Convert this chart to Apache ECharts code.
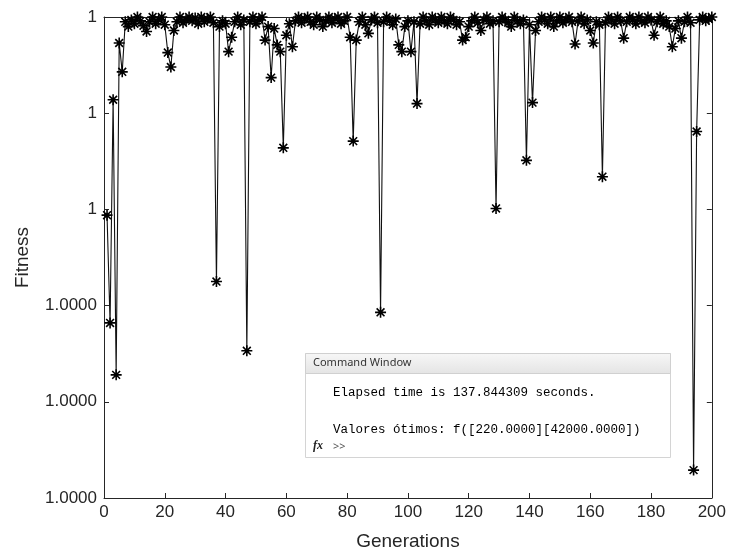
<!DOCTYPE html>
<html>
<head>
<meta charset="utf-8">
<script src="https://cdn.jsdelivr.net/npm/echarts@6/dist/echarts.min.js"></script>
<style>
  html, body { margin: 0; padding: 0; background: #fff; }
  #chart { width: 729px; height: 558px; }
</style>
</head>
<body>
<div id="chart"></div>
<script>
// Fitness per generation, expressed on the plot's tick scale (0 = bottom tick, 5 = top tick)
const fitnessLevel = [
  2.94, 1.82, 4.14, 1.28, 4.73, 4.43, 4.95, 4.90, 4.97, 4.93,
  5.00, 4.96, 4.91, 4.85, 4.95, 5.00, 4.93, 4.97, 5.00, 4.92,
  4.63, 4.48, 4.86, 4.95, 5.00, 4.94, 4.97, 5.00, 4.96, 4.99,
  4.93, 5.00, 4.95, 4.98, 5.00, 4.94, 2.25, 4.90, 4.96, 4.93,
  4.64, 4.79, 4.95, 5.00, 4.92, 4.97, 1.53, 4.95, 5.00, 4.93,
  4.97, 5.00, 4.76, 4.90, 4.37, 4.88, 4.71, 4.64, 3.64, 4.81,
  4.93, 4.69, 4.96, 5.00, 4.94, 4.98, 5.00, 4.95, 4.92, 5.00,
  4.97, 4.90, 4.96, 5.00, 4.94, 4.98, 5.00, 4.93, 4.96, 5.00,
  4.79, 3.71, 4.76, 4.95, 5.00, 4.92, 4.83, 4.97, 5.00, 4.94,
  1.93, 4.95, 5.00, 4.96, 4.92, 4.98, 4.71, 4.64, 4.90, 4.96,
  4.64, 4.95, 4.10, 4.93, 5.00, 4.96, 4.92, 5.00, 4.97, 4.94,
  5.00, 4.96, 4.93, 5.00, 4.97, 4.92, 4.95, 4.76, 4.79, 4.90,
  4.96, 5.00, 4.94, 4.86, 4.97, 5.00, 4.93, 4.96, 3.01, 4.95,
  5.00, 4.97, 4.94, 4.90, 5.00, 4.96, 4.93, 4.97, 3.51, 4.92,
  4.11, 4.86, 4.95, 5.00, 4.97, 4.93, 5.00, 4.90, 4.96, 5.00,
  4.94, 4.97, 5.00, 4.95, 4.72, 4.96, 5.00, 4.93, 4.97, 4.86,
  4.73, 4.95, 4.92, 3.34, 4.94, 5.00, 4.97, 4.93, 5.00, 4.96,
  4.78, 4.95, 5.00, 4.97, 4.93, 5.00, 4.96, 4.94, 5.00, 4.97,
  4.81, 4.95, 5.00, 4.93, 4.96, 4.90, 4.69, 4.88, 4.96, 4.78,
  4.95, 5.00, 4.94, 0.29, 3.81, 4.97, 5.00, 4.96, 4.98, 5.00
];

// Tick labels of the fitness axis, bottom to top
const yTickLabels = ['1.0000', '1.0000', '1.0000', '1', '1', '1'];

// Command window output shown in the inset
const consoleLines = [
  'Elapsed time is 137.844309 seconds.',
  'Valores ótimos: f([220.0000][42000.0000])'
];

const seriesData = fitnessLevel.map((v, i) => [i + 1, v]);

const axisColor = '#262626';
const labelFont = 'Liberation Sans, Arial, sans-serif';
const asterisk = 'path://M0,-10L0,10M-10,0L10,0M-7.1,-7.1L7.1,7.1M-7.1,7.1L7.1,-7.1';

const chart = echarts.init(document.getElementById('chart'), null, { renderer: 'canvas' });

const baseX = {
  type: 'value', min: 0, max: 200, interval: 20,
  axisLine: { show: true, onZero: false, lineStyle: { color: axisColor, width: 1 } },
  axisTick: { show: true, inside: true, length: 5, lineStyle: { color: axisColor } },
  splitLine: { show: false }
};
const baseY = {
  type: 'value', min: 0, max: 5, interval: 1,
  axisLine: { show: true, onZero: false, lineStyle: { color: axisColor, width: 1 } },
  axisTick: { show: true, inside: true, length: 5, lineStyle: { color: axisColor } },
  splitLine: { show: false }
};

chart.setOption({
  animation: false,
  backgroundColor: '#fff',
  grid: { left: 104, right: 17, top: 17, bottom: 60, containLabel: false },
  xAxis: [
    Object.assign({}, baseX, {
      position: 'bottom',
      name: 'Generations', nameLocation: 'middle', nameGap: 34,
      nameTextStyle: { color: axisColor, fontSize: 19, fontFamily: labelFont },
      axisLabel: { color: axisColor, fontSize: 17, margin: 6, fontFamily: labelFont }
    }),
    Object.assign({}, baseX, { position: 'top', axisLabel: { show: false } })
  ],
  yAxis: [
    Object.assign({}, baseY, {
      position: 'left',
      name: 'Fitness', nameLocation: 'middle', nameGap: 72,
      nameTextStyle: { color: axisColor, fontSize: 19, fontFamily: labelFont },
      axisLabel: {
        color: axisColor, fontSize: 17, margin: 7, fontFamily: labelFont,
        formatter: v => yTickLabels[Math.round(v)]
      }
    }),
    Object.assign({}, baseY, { position: 'right', axisLabel: { show: false } })
  ],
  series: [{
    type: 'line',
    data: seriesData,
    xAxisIndex: 0, yAxisIndex: 0,
    symbol: asterisk,
    symbolSize: 11,
    showAllSymbol: true,
    clip: false,
    lineStyle: { color: '#111', width: 1.1 },
    itemStyle: { color: '#000', borderColor: '#000', borderWidth: 1.6 },
    emphasis: { disabled: true }
  }],
  graphic: [
    // inset panel
    { type: 'rect', left: 305, top: 353, z: 100,
      shape: { width: 365, height: 104 },
      style: { fill: '#ffffff', stroke: '#d4d4d4', lineWidth: 1 } },
    { type: 'rect', left: 305, top: 353, z: 101,
      shape: { width: 365, height: 20 },
      style: {
        fill: new echarts.graphic.LinearGradient(0, 0, 0, 1, [
          { offset: 0, color: '#f7f7f7' }, { offset: 1, color: '#e4e4e4' }
        ]),
        stroke: '#d0d0d0', lineWidth: 1
      } },
    { type: 'text', left: 313, top: 357, z: 102,
      style: { text: 'Command Window', fill: '#333', font: '11px "Noto Sans", "DejaVu Sans", sans-serif' } },
    { type: 'text', left: 333, top: 386, z: 102,
      style: { text: consoleLines[0], fill: '#000', font: '12.5px "Liberation Mono", "DejaVu Sans Mono", monospace' } },
    { type: 'text', left: 333, top: 423, z: 102,
      style: { text: consoleLines[1], fill: '#000', font: '12.5px "Liberation Mono", "DejaVu Sans Mono", monospace' } },
    { type: 'text', left: 313, top: 440, z: 102,
      style: { text: 'fx', fill: '#222', font: 'italic bold 12px "Liberation Serif", serif' } },
    { type: 'text', left: 333, top: 441, z: 102,
      style: { text: '>>', fill: '#555', font: '11px "Noto Sans", "DejaVu Sans", sans-serif' } }
  ]
});
</script>
</body>
</html>
